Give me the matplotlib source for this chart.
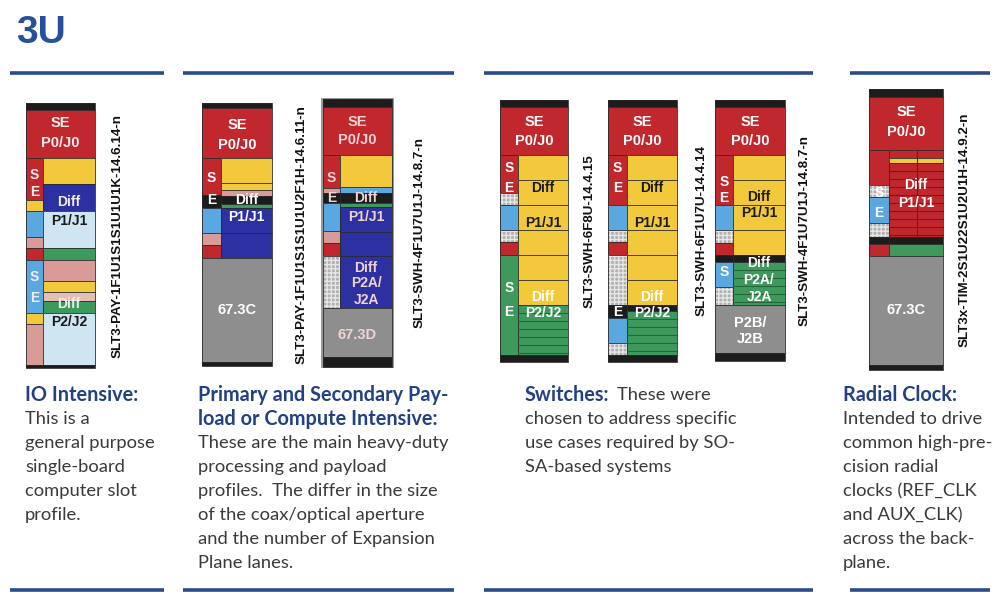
import matplotlib
matplotlib.use("Agg")
import matplotlib.pyplot as plt
from matplotlib.patches import Rectangle

# slot profiles: (kind, height in slot units), stacked top to bottom
io_head = [('blk', 7), ('red', 48)]
io_left = [('red', 42), ('yel', 11), ('lbl', 26), ('pnk', 11), ('red', 12),
           ('lbl', 53), ('yel', 11), ('pnk', 41)]
io_right = [('yel', 26), ('blu', 27), ('vlb', 37), ('grn', 12), ('pnk', 21),
            ('yel', 11), ('lpk', 9), ('grn', 12), ('vlb', 52)]
io_foot = [('blk', 3)]

pay1_head = [('blk', 5), ('red', 50)]
pay1_left = [('red', 37), ('blk', 13), ('lbl', 25), ('pnk', 12), ('red', 13)]
pay1_right = [('yel', 25), ('yel', 7), ('pnk', 6), ('blk', 8), ('grn', 4),
              ('blu', 25), ('blu', 25)]
pay1_foot = [('gry', 104), ('blk', 4)]

pay2_head = [('blk', 8), ('red', 48)]
pay2_left = [('red', 33), ('pnk', 5), ('blk', 10), ('lbl', 28), ('pnk', 12),
             ('red', 13), ('chk', 52)]
pay2_right = [('yel', 32), ('lbl', 6), ('blk', 10), ('grn', 4), ('blu', 25),
              ('blu', 24), ('blu', 52)]
pay2_foot = [('gry', 49), ('blk', 10)]

sw1_head = [('blk', 7), ('red', 48)]
sw1_left = [('red', 38), ('chk', 12), ('lbl', 25), ('chk', 12), ('red', 13),
            ('grn', 100)]
sw1_right = [('yel', 25), ('yel', 25), ('yel', 25), ('yel', 25), ('yel', 25),
             ('yel', 25), ('grn_s', 50)]
sw1_foot = [('blk', 7)]

sw2_head = [('blk', 7), ('red', 48)]
sw2_left = [('red', 50), ('lbl', 25), ('chk', 12), ('red', 13), ('chk', 50),
            ('blk', 13), ('lbl', 25), ('chk', 12)]
sw2_right = [('yel', 25), ('yel', 25), ('yel', 25), ('yel', 25), ('yel', 25),
             ('yel', 25), ('blk', 6), ('grn_s', 44)]
sw2_foot = [('blk', 7)]

sw3_head = [('blk', 7), ('red', 48)]
sw3_left = [('red', 50), ('lbl', 25), ('chk', 13), ('red', 12), ('blk', 7),
            ('lbl', 25), ('chk', 18)]
sw3_right = [('yel', 25), ('yel', 25), ('yel', 25), ('yel', 25), ('blk', 7),
             ('grn_s', 43)]
sw3_foot = [('gry', 48), ('blk', 8)]

clk_head = [('blk', 8), ('red', 53)]
clk_left = [('red', 35), ('chk', 12), ('lbl', 26), ('chk', 14), ('blk', 7),
            ('red', 12)]
clk_right = [('red_s', 8), ('yel', 5), ('red_s', 74), ('blk', 7), ('grn', 12)]
clk_foot = [('gry', 109), ('blk', 5)]

slot_names = ['SLT3-PAY-1F1U1S1S1U1U1K-14.6.14-n',
              'SLT3-PAY-1F1U1S1S1U1U2F1H-14.6.11-n',
              'SLT3-SWH-4F1U7U1J-14.8.7-n',
              'SLT3-SWH-6F8U-14.4.15',
              'SLT3-SWH-6F1U7U-14.4.14',
              'SLT3-SWH-4F1U7U1J-14.8.7-n',
              'SLT3x-TIM-2S1U22S1U2U1H-14.9.2-n']

# labels inside slots: (text, column, y)
io_labels = [('SE', 'F', 123), ('P0/J0', 'F', 143), ('S', 'L', 175), ('E', 'L', 192),
             ('Diff', 'R', 202), ('P1/J1', 'R', 221), ('S', 'L', 277), ('E', 'L', 298),
             ('Diff', 'R', 304), ('P2/J2', 'R', 322)]
pay1_labels = [('SE', 'F', 125), ('P0/J0', 'F', 145), ('S', 'L', 178), ('E', 'L', 200),
               ('Diff', 'R', 200), ('P1/J1', 'R', 217), ('67.3C', 'F', 310)]
pay2_labels = [('SE', 'F', 122), ('P0/J0', 'F', 140), ('S', 'L', 178), ('E', 'L', 198),
               ('Diff', 'R', 198), ('P1/J1', 'R', 217), ('Diff', 'R', 268),
               ('P2A/', 'R', 283), ('J2A', 'R', 300), ('67.3D', 'F', 335)]
sw1_labels = [('SE', 'F', 122), ('P0/J0', 'F', 141), ('S', 'L', 168), ('E', 'L', 188),
              ('Diff', 'R', 188), ('P1/J1', 'R', 223), ('S', 'L', 288), ('E', 'L', 312),
              ('Diff', 'R', 297), ('P2/J2', 'R', 313)]
sw2_labels = [('SE', 'F', 122), ('P0/J0', 'F', 141), ('S', 'L', 168), ('E', 'L', 188),
              ('Diff', 'R', 188), ('P1/J1', 'R', 223), ('Diff', 'R', 297),
              ('E', 'L', 312), ('P2/J2', 'R', 313)]
sw3_labels = [('SE', 'F', 122), ('P0/J0', 'F', 141), ('S', 'L', 182), ('E', 'L', 198),
              ('Diff', 'R', 197), ('P1/J1', 'R', 213), ('Diff', 'R', 263),
              ('P2A/', 'R', 280), ('J2A', 'R', 297), ('S', 'L', 272),
              ('P2B/', 'F', 323), ('J2B', 'F', 339)]
clk_labels = [('SE', 'F', 112), ('P0/J0', 'F', 132), ('S', 'L', 193), ('E', 'L', 213),
              ('Diff', 'R', 185), ('P1/J1', 'R', 203), ('67.3C', 'F', 310)]

section_titles = ['IO Intensive:', 'Primary and Secondary Pay-\nload or Compute Intensive:',
                  'Switches:', 'Radial Clock:']
section_bodies = [
    ['This is a', 'general purpose', 'single-board', 'computer slot', 'profile.'],
    ['These are the main heavy-duty', 'processing and payload',
     'profiles.  The differ in the size', 'of the coax/optical aperture',
     'and the number of Expansion', 'Plane lanes.'],
    ['These were', 'chosen to address specific', 'use cases required by SO-',
     'SA-based systems'],
    ['Intended to drive', 'common high-pre-', 'cision radial', 'clocks (REF_CLK',
     'and AUX_CLK)', 'across the back-', 'plane.'],
]

COL = {'red': '#c1282e', 'yel': '#f2c93a', 'blu': '#2c30a0', 'lbl': '#5aa8df',
       'vlb': '#cfe5f1', 'pnk': '#d89b98', 'grn': '#3e9a5c', 'gry': '#8e8e8e',
       'blk': '#1c1c1c', 'chk': '#b0b0b0', 'lpk': '#e4c0b4'}
DARK = {'red': '#7e1418', 'grn': '#23663a'}
NAVY = '#2b4b8f'
TITLE = '#233f86'
BODY = '#3a3a3a'

fig = plt.figure(figsize=(10, 6.11), dpi=100)
ax = fig.add_axes([0, 0, 1, 1])
ax.set_xlim(0, 1000)
ax.set_ylim(611, 0)
ax.axis('off')


def cell(x, y, w, h, kind):
    base = kind.split('_')[0]
    ax.add_patch(Rectangle((x, y), w, h, facecolor=COL[base], edgecolor='none'))
    if base == 'chk':
        ax.add_patch(Rectangle((x, y), w, h, facecolor='none', edgecolor='#e6e6e6',
                               hatch='++++', lw=0))
    if kind.endswith('_s'):
        yy = y + 8
        while yy < y + h - 1:
            ax.plot([x, x + w], [yy, yy], color=DARK[base], lw=0.8)
            yy += 8
    ax.add_patch(Rectangle((x, y), w, h, facecolor='none', edgecolor='#2a2a2a', lw=0.6))


def stack(x, w, y, segs):
    spans = []
    for kind, h in segs:
        cell(x, y, w, h, kind)
        spans.append((y, y + h, kind))
        y += h
    return y, spans


def kind_at(spans, ty):
    for a, b, k in spans:
        if a <= ty < b:
            return k
    return None


def draw_slot(x0, x1, xs, top, head, left, right, foot, labels, name, nx,
              txt_col='white', frame=False):
    if frame:
        ax.add_patch(Rectangle((x0 - 2, top - 1), x1 - x0 + 4,
                               sum(h for _, h in head + left + foot) + 2,
                               facecolor='#9a9a9a', edgecolor='none'))
    y, _ = stack(x0, x1 - x0, top, head)
    yl, sl = stack(x0, xs - x0, y, left)
    _, sr = stack(xs, x1 - xs, y, right)
    yend, _ = stack(x0, x1 - x0, yl, foot)
    cx = {'F': (x0 + x1) / 2, 'L': (x0 + xs) / 2, 'R': (xs + x1) / 2}
    for t, c, ty in labels:
        col = txt_col
        k = kind_at(sr, ty) if c == 'R' else None
        # dark text on light cells (upper yellow P1/J1 block, pale blue)
        if k == 'vlb' or (k == 'yel' and ty < 260):
            col = '#1a1a1a'
        ax.text(cx[c], ty, t, ha='center', va='center', color=col,
                fontsize=10.5 if c == 'F' else 10, fontweight='bold',
                family='Liberation Sans')
    ax.text(nx, (top + yend) / 2, name, rotation=90, ha='center', va='center',
            fontsize=9.6, fontweight='bold', family='Liberation Sans', color='#111111')


draw_slot(26, 95, 43, 103, io_head, io_left, io_right, io_foot, io_labels,
          slot_names[0], 118, txt_col='#f4ecec')
draw_slot(202, 272, 221, 103, pay1_head, pay1_left, pay1_right, pay1_foot,
          pay1_labels, slot_names[1], 302)
draw_slot(323, 392, 340, 99, pay2_head, pay2_left, pay2_right, pay2_foot,
          pay2_labels, slot_names[2], 420, txt_col='#f0d4d4', frame=True)
draw_slot(500, 568, 518, 100, sw1_head, sw1_left, sw1_right, sw1_foot,
          sw1_labels, slot_names[3], 590)
draw_slot(608, 677, 627, 100, sw2_head, sw2_left, sw2_right, sw2_foot,
          sw2_labels, slot_names[4], 702)
draw_slot(715, 785, 733, 100, sw3_head, sw3_left, sw3_right, sw3_foot,
          sw3_labels, slot_names[5], 805)
draw_slot(869, 943, 889, 89, clk_head, clk_left, clk_right, clk_foot,
          clk_labels, slot_names[6], 965)
# divider in the striped clock area
ax.plot([917, 917], [150, 237], color=DARK['red'], lw=0.8)

# title and section rules
ax.text(16, 33, '3U', fontsize=28, fontweight='bold', color='#27509b',
        family='Liberation Sans', va='center', ha='left')
rules = [(10, 164), (183, 454), (484, 813), (850, 990)]
for a, b in rules:
    for yr in (73, 590):
        ax.plot([a, b], [yr, yr], color=NAVY, lw=2.6, solid_capstyle='butt')

# text blocks
text_x = [25, 198, 525, 843]
line0 = 395
step = 24
for i in range(4):
    tl = section_titles[i].split('\n')
    for j, t in enumerate(tl):
        ax.text(text_x[i], line0 + j * step, t, fontsize=14.3, fontweight='bold',
                color=TITLE, family='Lato', va='center', ha='left')
    body = section_bodies[i]
    if i == 2:
        ax.text(617, line0, body[0], fontsize=13.2, color=BODY, family='Lato',
                va='center', ha='left')
        body = body[1:]
    for j, t in enumerate(body):
        ax.text(text_x[i], line0 + (j + 1 if i != 1 else j + 2) * step, t,
                fontsize=13.2, color=BODY, family='Lato', va='center', ha='left')

fig.savefig('out.png', dpi=100)
